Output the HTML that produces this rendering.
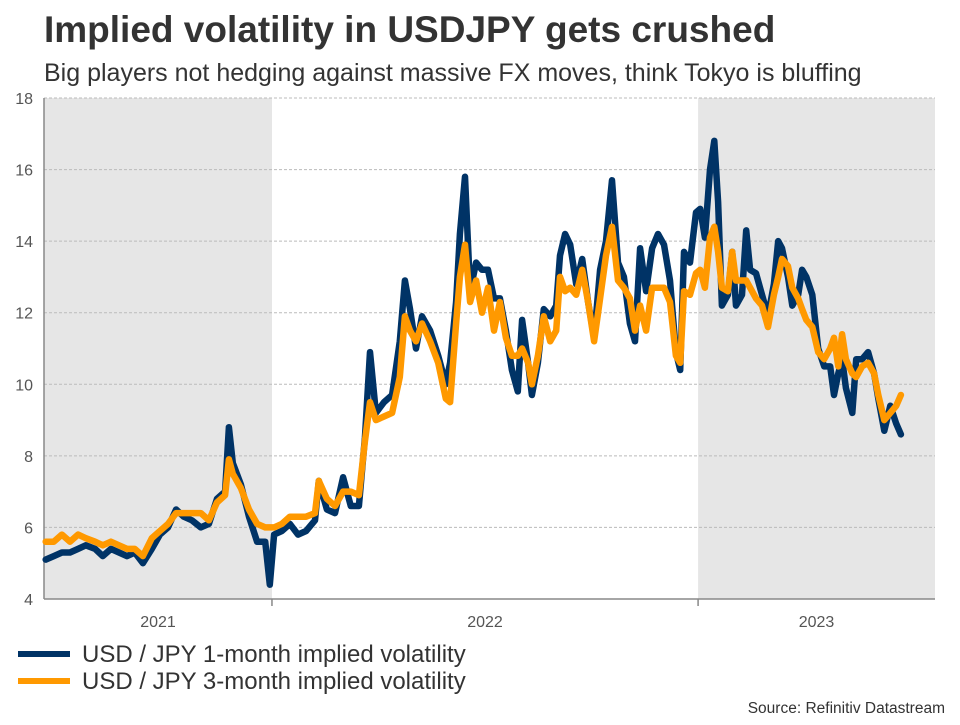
<!DOCTYPE html>
<html><head><meta charset="utf-8"><style>
body{margin:0;background:#fff;width:960px;height:720px;overflow:hidden;font-family:"Liberation Sans",sans-serif}
</style></head><body>
<svg id="chart" width="960" height="720" xmlns="http://www.w3.org/2000/svg" font-family="Liberation Sans, sans-serif">
<text x="44" y="42" font-size="37" font-weight="bold" fill="#333">Implied volatility in USDJPY gets crushed</text>
<text x="44" y="81" font-size="25" fill="#333">Big players not hedging against massive FX moves, think Tokyo is bluffing</text>
<g id="plot"></g>
<g>
<line x1="18" y1="654" x2="70" y2="654" stroke="#003366" stroke-width="6"/>
<text x="82" y="662" font-size="24" fill="#333">USD / JPY 1-month implied volatility</text>
<line x1="18" y1="681" x2="70" y2="681" stroke="#ff9900" stroke-width="6"/>
<text x="82" y="689" font-size="24" fill="#333">USD / JPY 3-month implied volatility</text>
</g>
<text x="945" y="713" font-size="15.5" fill="#333" text-anchor="end">Source: Refinitiv Datastream</text>
</svg>
<script>
const dates=[2021.469,2021.488,2021.507,2021.526,2021.545,2021.563,2021.585,2021.603,2021.622,2021.641,2021.660,2021.678,2021.697,2021.718,2021.737,2021.756,2021.775,2021.793,2021.812,2021.833,2021.852,2021.871,2021.890,2021.899,2021.908,2021.927,2021.946,2021.965,2021.984,2021.995,2022.005,2022.023,2022.042,2022.061,2022.080,2022.101,2022.110,2022.129,2022.148,2022.167,2022.185,2022.204,2022.218,2022.230,2022.244,2022.263,2022.282,2022.300,2022.312,2022.324,2022.338,2022.352,2022.371,2022.390,2022.408,2022.418,2022.432,2022.441,2022.453,2022.465,2022.479,2022.493,2022.507,2022.521,2022.535,2022.549,2022.563,2022.577,2022.587,2022.601,2022.610,2022.624,2022.638,2022.653,2022.667,2022.676,2022.688,2022.700,2022.714,2022.728,2022.742,2022.756,2022.770,2022.784,2022.798,2022.812,2022.826,2022.840,2022.852,2022.864,2022.878,2022.892,2022.906,2022.920,2022.934,2022.948,2022.958,2022.967,2022.981,2022.995,2023.005,2023.016,2023.028,2023.038,2023.047,2023.056,2023.070,2023.080,2023.089,2023.103,2023.113,2023.122,2023.136,2023.150,2023.164,2023.178,2023.188,2023.197,2023.211,2023.221,2023.235,2023.244,2023.254,2023.268,2023.282,2023.296,2023.310,2023.319,2023.329,2023.338,2023.347,2023.362,2023.371,2023.385,2023.399,2023.413,2023.423,2023.437,2023.451,2023.465,2023.476];
const vol1m=[5.1,5.2,5.3,5.3,5.4,5.5,5.4,5.2,5.4,5.3,5.2,5.3,5.0,5.4,5.8,6.0,6.5,6.3,6.2,6.0,6.1,6.8,7.0,8.8,7.8,7.2,6.3,5.6,5.6,4.4,5.8,5.9,6.1,5.8,5.9,6.2,7.3,6.5,6.4,7.4,6.6,6.6,8.5,10.9,9.2,9.5,9.7,11.2,12.9,12.1,11.0,11.9,11.5,10.8,10.0,10.6,12.3,14.2,15.8,12.6,13.4,13.2,13.2,12.4,12.4,11.5,10.4,9.8,11.8,10.6,9.7,10.6,12.1,11.9,12.2,13.6,14.2,13.9,12.8,13.5,12.3,11.3,13.2,14.0,15.7,13.4,13.0,11.7,11.2,13.8,12.6,13.8,14.2,13.9,12.9,10.9,10.4,13.7,13.4,14.8,14.9,14.1,16.0,16.8,15.1,12.2,12.5,13.7,12.2,12.5,14.3,13.2,13.1,12.5,11.9,12.8,14.0,13.8,13.0,12.2,12.5,13.2,13.0,12.5,11.0,10.5,10.5,9.7,10.3,10.7,9.9,9.2,10.7,10.7,10.9,10.3,9.6,8.7,9.4,8.9,8.6];
const vol3m=[5.6,5.6,5.8,5.6,5.8,5.7,5.6,5.5,5.6,5.5,5.4,5.4,5.2,5.7,5.9,6.1,6.4,6.4,6.4,6.4,6.2,6.7,6.9,7.9,7.5,7.1,6.5,6.1,6.0,6.0,6.0,6.1,6.3,6.3,6.3,6.4,7.3,6.8,6.6,7.0,7.0,6.9,8.4,9.5,9.0,9.1,9.2,10.2,11.9,11.5,11.2,11.7,11.2,10.6,9.6,9.5,11.7,13.0,13.9,12.3,12.9,12.0,12.7,11.5,12.3,11.3,10.8,10.8,11.0,10.6,10.0,10.8,11.9,11.2,11.5,13.0,12.6,12.7,12.5,13.2,12.3,11.2,12.4,13.6,14.4,12.9,12.7,12.4,11.5,12.2,11.5,12.7,12.7,12.7,12.3,10.8,10.6,12.6,12.5,13.1,13.2,12.7,14.1,14.4,13.7,12.7,12.6,13.7,12.9,12.9,12.9,12.7,12.4,12.2,11.6,12.5,13.0,13.5,13.3,12.7,12.4,12.1,11.8,11.6,10.9,10.7,11.0,11.3,10.5,11.4,10.7,10.3,10.2,10.5,10.6,10.3,9.7,9.0,9.2,9.4,9.7];
const yTicks=[4,6,8,10,12,14,16,18];
const yearLabels=["2021","2022","2023"];
const yearBounds=[2021.465,2022,2023,2023.556];

const NS="http://www.w3.org/2000/svg";
const X0=44,X1=935,Y0=599,Y1=98;
const tMin=2021.465,tMax=2023.556;
function xs(t){return X0+(t-tMin)/(tMax-tMin)*(X1-X0);}
function ys(v){return Y0-(v-4)/(18-4)*(Y0-Y1);}
const plot=document.getElementById('plot');
function mk(tag,attrs){const e=document.createElementNS(NS,tag);for(const k in attrs)e.setAttribute(k,attrs[k]);plot.appendChild(e);return e;}
[[0,1],[2,3]].forEach((p,i)=>{
  const r=mk('rect',{x:xs(yearBounds[p[0]]),y:Y1,width:xs(yearBounds[p[1]])-xs(yearBounds[p[0]]),height:Y0-Y1,fill:'#e6e6e6'});
  
  
});
yTicks.forEach(v=>{
  if(v>4){const g=mk('line',{x1:X0,x2:X1,y1:ys(v),y2:ys(v),stroke:'#bbb','stroke-dasharray':'3,2','stroke-width':1});
  
  }
  const t=mk('text',{x:33,y:ys(v)+6,'font-size':16,fill:'#555','text-anchor':'end'});
  t.textContent=v;
  
  
});
const ax=mk('line',{x1:X0,x2:X0,y1:Y1,y2:Y0,stroke:'#888','stroke-width':1.5});


const bx=mk('line',{x1:X0,x2:X1,y1:Y0,y2:Y0,stroke:'#888','stroke-width':1.5});


[1,2].forEach(i=>{const tk=mk('line',{x1:xs(yearBounds[i]),x2:xs(yearBounds[i]),y1:Y0,y2:Y0+7,stroke:'#888','stroke-width':1.5});

});
yearLabels.forEach((l,i)=>{
  const cx=(xs(yearBounds[i])+xs(yearBounds[i+1]))/2;
  const t=mk('text',{x:cx,y:627,'font-size':16,fill:'#555','text-anchor':'middle'});
  t.textContent=l;
  
  
});
function line(vals,color,name){
  const d=vals.map((v,i)=>(i?'L':'M')+xs(dates[i]).toFixed(1)+','+ys(v).toFixed(1)).join('');
  const p=mk('path',{d:d,fill:'none',stroke:color,'stroke-width':6.5,'stroke-linejoin':'round','stroke-linecap':'round'});
  
  
}
line(vol1m,'#003366','series-1m-vol');
line(vol3m,'#ff9900','series-3m-vol');
</script>
</body></html>
